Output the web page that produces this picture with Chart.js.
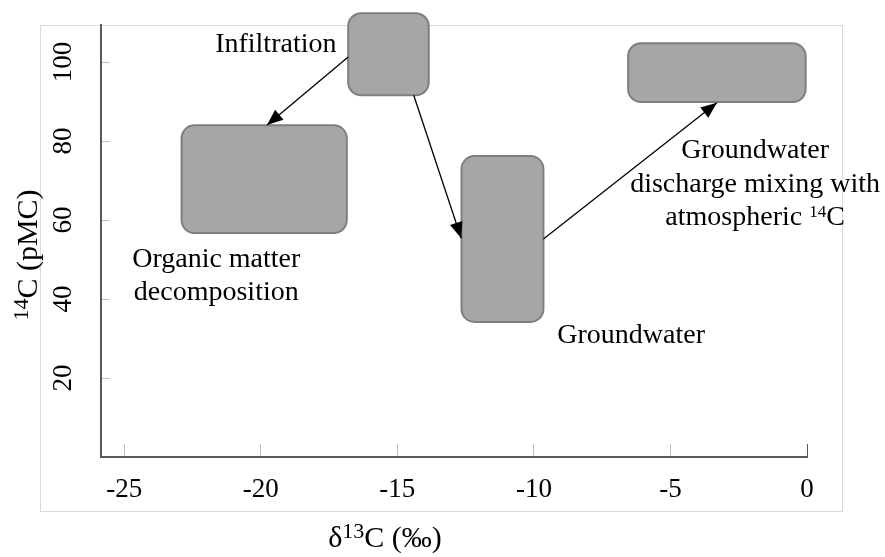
<!DOCTYPE html>
<html lang="en">
  <head>
    <meta charset="UTF-8" />
    <title>14C vs d13C</title>
    <script src="https://cdn.jsdelivr.net/npm/chart.js@4.4.1/dist/chart.umd.min.js"></script>
    <style>
      html, body { margin: 0; padding: 0; background: #fff; }
    </style>
  </head>
  <body>
    <canvas id="chart" width="885" height="557"></canvas>
    <script>
      const xTicks = [-25, -20, -15, -10, -5, 0];
      const yTicks = [20, 40, 60, 80, 100];
      // source / process fields, in delta13C (x) and pMC (y)
      const boxXMin = [-16.8, -22.9, -12.65, -6.55];
      const boxXMax = [-13.85, -16.85, -9.65, -0.05];
      const boxYMin = [91.6, 56.7, 34.2, 89.9];
      const boxYMax = [112.4, 84.0, 76.2, 104.8];
      // arrows between fields
      const arrowFromX = [-16.8, -14.4, -9.65];
      const arrowFromY = [101.3, 91.6, 55.2];
      const arrowToX = [-19.77, -12.66, -3.3];
      const arrowToY = [84.05, 55.4, 89.7];
      // text labels (first line baseline)
      const labelLines = [
        ["Infiltration"],
        ["Organic matter", "decomposition"],
        ["Groundwater"],
        ["Groundwater", "discharge mixing with", "atmospheric ^{14}C"],
      ];
      const labelX = [-19.45, -21.63, -6.44, -1.9];
      const labelY = [102.6, 48.2, 28.9, 75.6];

      const FONT = "'Liberation Serif', 'Times New Roman', serif";
      Chart.defaults.font.family = FONT;
      Chart.defaults.color = "#000";

      function richParts(str) {
        const parts = [];
        const re = /\^\{(.*?)\}/g;
        let last = 0, m;
        while ((m = re.exec(str))) {
          if (m.index > last) parts.push({ t: str.slice(last, m.index), sup: false });
          parts.push({ t: m[1], sup: true });
          last = re.lastIndex;
        }
        if (last < str.length) parts.push({ t: str.slice(last), sup: false });
        return parts;
      }
      function drawRich(ctx, str, cx, by, size, supScale) {
        const parts = richParts(str);
        const supSize = Math.round(size * (supScale || 0.62));
        let w = 0;
        parts.forEach((p) => {
          ctx.font = (p.sup ? supSize : size) + "px " + FONT;
          p.w = ctx.measureText(p.t).width;
          w += p.w;
        });
        let x = cx - w / 2;
        ctx.textAlign = "left";
        ctx.textBaseline = "alphabetic";
        parts.forEach((p) => {
          ctx.font = (p.sup ? supSize : size) + "px " + FONT;
          ctx.fillText(p.t, x, p.sup ? by - size * 0.3 : by);
          x += p.w;
        });
      }
      function roundRectPath(ctx, x, y, w, h, r) {
        ctx.beginPath();
        ctx.moveTo(x + r, y);
        ctx.lineTo(x + w - r, y);
        ctx.arcTo(x + w, y, x + w, y + r, r);
        ctx.lineTo(x + w, y + h - r);
        ctx.arcTo(x + w, y + h, x + w - r, y + h, r);
        ctx.lineTo(x + r, y + h);
        ctx.arcTo(x, y + h, x, y + h - r, r);
        ctx.lineTo(x, y + r);
        ctx.arcTo(x, y, x + r, y, r);
        ctx.closePath();
      }

      const decor = {
        id: "decor",
        beforeDraw(chart) {
          const { ctx, chartArea } = chart;
          ctx.save();
          ctx.strokeStyle = "#d9d9d9";
          ctx.lineWidth = 1;
          ctx.strokeRect(chartArea.left - 60.5, chartArea.top + 0.5, 802, 486);
          ctx.restore();
        },
        beforeDatasetsDraw(chart) {
          const { ctx, scales } = chart;
          ctx.save();
          ctx.fillStyle = "#a6a6a6";
          ctx.strokeStyle = "#7f7f7f";
          ctx.lineWidth = 2;
          boxXMin.forEach((v, i) => {
            const x0 = scales.x.getPixelForValue(v);
            const x1 = scales.x.getPixelForValue(boxXMax[i]);
            const y0 = scales.y.getPixelForValue(boxYMax[i]);
            const y1 = scales.y.getPixelForValue(boxYMin[i]);
            roundRectPath(ctx, x0, y0, x1 - x0, y1 - y0, 13);
            ctx.fill();
            ctx.stroke();
          });
          ctx.restore();
        },
        afterDatasetsDraw(chart) {
          const { ctx, scales } = chart;
          ctx.save();
          // arrow heads
          ctx.fillStyle = "#000";
          arrowToX.forEach((v, i) => {
            const tx = scales.x.getPixelForValue(v);
            const ty = scales.y.getPixelForValue(arrowToY[i]);
            const fx = scales.x.getPixelForValue(arrowFromX[i]);
            const fy = scales.y.getPixelForValue(arrowFromY[i]);
            const a = Math.atan2(ty - fy, tx - fx);
            const len = 16, hw = 6.5;
            ctx.beginPath();
            ctx.moveTo(tx, ty);
            ctx.lineTo(tx - len * Math.cos(a) + hw * Math.sin(a), ty - len * Math.sin(a) - hw * Math.cos(a));
            ctx.lineTo(tx - len * Math.cos(a) - hw * Math.sin(a), ty - len * Math.sin(a) + hw * Math.cos(a));
            ctx.closePath();
            ctx.fill();
          });
          // labels
          ctx.fillStyle = "#000";
          labelLines.forEach((lines, i) => {
            const cx = scales.x.getPixelForValue(labelX[i]);
            const by = scales.y.getPixelForValue(labelY[i]);
            lines.forEach((line, j) => drawRich(ctx, line, cx, by + j * 33.4, 28));
          });
          ctx.restore();
        },
        afterDraw(chart) {
          const { ctx } = chart;
          ctx.save();
          ctx.fillStyle = "#000";
          drawRich(ctx, "\u03b4^{13}C (\u2030)", 385, 547, 30, 0.74);
          ctx.translate(37, 255);
          ctx.rotate(-Math.PI / 2);
          drawRich(ctx, "^{14}C (pMC)", 0, 0, 30, 0.74);
          ctx.restore();
        },
      };

      const tickColor = (c) => (c.tick && c.tick.value === 0 ? "#595959" : "#bfbfbf");

      new Chart(document.getElementById("chart"), {
        type: "scatter",
        data: {
          datasets: arrowFromX.map((x0, i) => ({
            type: "line",
            data: [
              { x: x0, y: arrowFromY[i] },
              { x: arrowToX[i], y: arrowToY[i] },
            ],
            borderColor: "#000",
            borderWidth: 1.3,
            pointRadius: 0,
            fill: false,
            clip: false,
          })),
        },
        options: {
          responsive: false,
          animation: false,
          layout: { padding: { left: 0, top: 25, right: 78, bottom: 0 } },
          plugins: { legend: { display: false }, tooltip: { enabled: false } },
          scales: {
            x: {
              type: "linear",
              min: -25.85,
              max: 0,
              afterBuildTicks: (s) => { s.ticks = xTicks.map((v) => ({ value: v })); },
              afterFit: (s) => { s.height = 100; s.paddingLeft = 0; s.paddingRight = 0; },
              grid: { drawOnChartArea: false, tickLength: -13, tickColor: tickColor, tickWidth: 1 },
              border: { color: "#595959", width: 2 },
              ticks: { font: { size: 27 }, padding: 30, color: "#000" },
            },
            y: {
              type: "linear",
              min: 0,
              max: 109.4,
              afterBuildTicks: (s) => { s.ticks = yTicks.map((v) => ({ value: v })); },
              afterFit: (s) => { s.width = 101; s.paddingTop = 0; s.paddingBottom = 0; },
              grid: { drawOnChartArea: false, tickLength: -9, tickColor: "#bfbfbf", tickWidth: 1 },
              border: { color: "#595959", width: 2 },
              ticks: { font: { size: 27 }, padding: 26, minRotation: 90, maxRotation: 90, crossAlign: "center", color: "#000" },
            },
          },
        },
        plugins: [decor],
      });
    </script>
  </body>
</html>
